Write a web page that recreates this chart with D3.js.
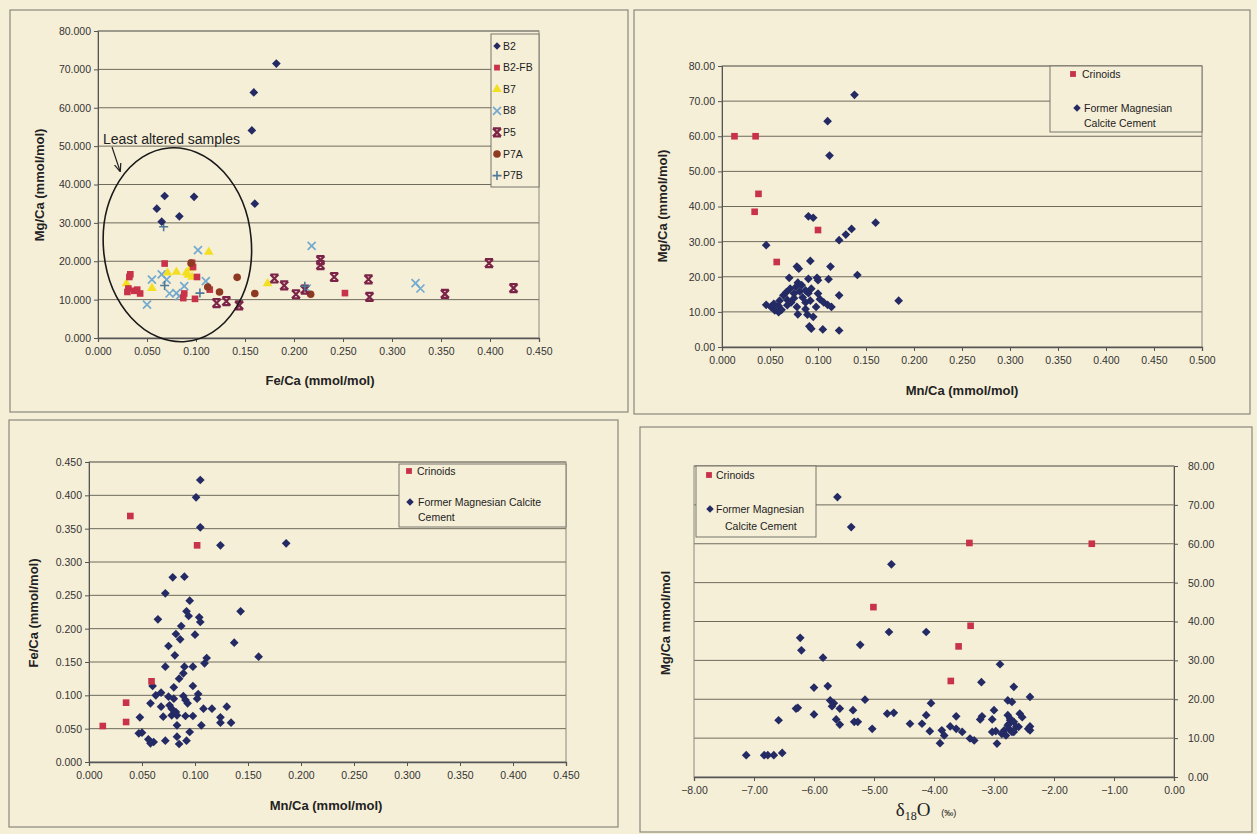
<!DOCTYPE html>
<html>
<head>
<meta charset="utf-8">
<style>
  body { margin: 0; background: #f6efd8; }
  svg { display: block; font-family: "Liberation Sans", Arial, sans-serif; }
  .tick text { font-size: 10.5px; fill: #333; }
  .axis path, .axis line { stroke: #555; }
  .grid line { stroke: #6e6a5c; stroke-width: 1; }
  .title { font-size: 13px; font-weight: bold; fill: #222; }
  .legend text { font-size: 10.5px; fill: #222; }
</style>
</head>
<body>
<svg id="fig" width="1257" height="834"></svg>
<script src="https://d3js.org/d3.v7.min.js"></script>
<script>
// ---------- panel 1 : Fe/Ca vs Mg/Ca per sample ----------
var p1Series = ["B2", "B2-FB", "B7", "B8", "P5", "P7A", "P7B"];
var p1_B2 = [[0.182,71.5],[0.159,64.0],[0.157,54.1],[0.160,35.0],[0.068,37.0],[0.098,36.8],[0.060,33.7],[0.083,31.7],[0.065,30.3]];
var p1_B2FB = [[0.068,19.4],[0.096,19.6],[0.097,18.5],[0.032,15.9],[0.033,16.6],[0.031,12.9],[0.037,12.3],[0.043,11.6],[0.030,12.0],
  [0.040,12.6],[0.087,10.4],[0.088,11.6],[0.099,10.2],[0.101,15.9],[0.114,12.6],[0.252,11.7]];
var p1_B7 = [[0.113,22.4],[0.029,14.2],[0.055,13.0],[0.071,17.0],[0.080,17.2],[0.090,17.0],[0.094,18.1],[0.096,15.9],[0.173,14.2],[0.092,16.4]];
var p1_B8 = [[0.102,22.9],[0.218,24.0],[0.050,8.7],[0.055,15.2],[0.065,16.6],[0.070,15.2],[0.073,11.6],[0.080,11.7],[0.083,10.9],
  [0.088,13.5],[0.110,14.8],[0.324,14.3],[0.329,12.9],[0.213,12.9]];
var p1_P5 = [[0.180,15.5],[0.190,13.7],[0.202,11.4],[0.211,12.6],[0.227,20.3],[0.227,19.0],[0.241,15.9],[0.276,15.3],[0.277,10.7],
  [0.354,11.5],[0.399,19.5],[0.424,13.0],[0.121,9.1],[0.131,9.6],[0.144,8.5]];
var p1_P7A = [[0.142,15.8],[0.160,11.6],[0.217,11.4],[0.124,12.0],[0.112,13.3],[0.095,19.5]];
var p1_P7B = [[0.067,29.0],[0.068,13.7],[0.104,11.7],[0.211,13.5]];

// ---------- panel 2 : Mn/Ca vs Mg/Ca ----------
var p2_crinoids = [[0.013,60.0],[0.035,60.0],[0.038,43.6],[0.034,38.5],[0.100,33.3],[0.057,24.2]];
var p2_cement = [[0.138,71.8],[0.110,64.3],[0.112,54.5],[0.090,37.2],[0.095,36.8],[0.135,33.6],[0.129,32.0],[0.122,30.4],[0.160,35.4],
  [0.046,29.0],[0.092,24.5],[0.113,22.9],[0.078,22.9],[0.080,22.3],[0.141,20.5],[0.070,19.7],[0.090,19.4],[0.099,19.7],[0.100,19.0],
  [0.111,19.3],[0.122,14.7],[0.184,13.2],[0.091,5.9],[0.093,5.2],[0.105,5.0],[0.122,4.7],
  [0.046,12.0],[0.051,11.4],[0.055,10.4],[0.059,11.7],[0.060,13.2],[0.064,14.7],[0.067,15.6],[0.071,16.6],[0.075,15.2],[0.077,17.1],
  [0.079,18.3],[0.068,13.4],[0.072,12.7],[0.078,11.4],[0.079,9.3],[0.084,14.1],[0.087,12.7],[0.090,15.3],[0.092,13.2],[0.093,16.6],
  [0.087,10.8],[0.089,9.2],[0.095,8.6],[0.098,11.4],[0.102,13.6],[0.106,12.7],[0.110,12.0],[0.114,11.4],[0.062,10.6],[0.059,9.9],
  [0.054,12.3],[0.068,11.9],[0.081,15.8],[0.083,17.6],[0.075,13.9],[0.087,16.1],[0.100,15.2]];

// ---------- panel 3 : Mn/Ca vs Fe/Ca ----------
var p3_crinoids = [[0.039,0.369],[0.102,0.325],[0.013,0.054],[0.035,0.089],[0.035,0.060],[0.059,0.121]];
var p3_cement = [[0.105,0.423],[0.101,0.397],[0.105,0.352],[0.124,0.325],[0.186,0.328],[0.079,0.277],[0.090,0.278],[0.072,0.253],
  [0.095,0.242],[0.143,0.226],[0.065,0.214],[0.092,0.226],[0.094,0.219],[0.104,0.217],[0.105,0.210],[0.087,0.204],[0.100,0.191],
  [0.082,0.192],[0.086,0.184],[0.137,0.179],[0.075,0.174],[0.081,0.160],[0.160,0.158],[0.111,0.156],[0.109,0.148],[0.072,0.143],
  [0.090,0.143],[0.098,0.143],[0.089,0.133],[0.085,0.125],[0.060,0.114],[0.080,0.112],[0.098,0.114],[0.068,0.104],[0.063,0.100],
  [0.075,0.098],[0.080,0.095],[0.089,0.099],[0.091,0.093],[0.103,0.102],[0.102,0.095],[0.058,0.088],[0.068,0.083],[0.076,0.085],
  [0.093,0.088],[0.108,0.080],[0.116,0.080],[0.130,0.083],[0.048,0.067],[0.070,0.068],[0.078,0.070],[0.091,0.069],[0.098,0.069],
  [0.124,0.067],[0.083,0.055],[0.095,0.045],[0.106,0.055],[0.124,0.059],[0.134,0.059],[0.047,0.043],[0.050,0.044],[0.056,0.034],
  [0.061,0.030],[0.058,0.028],[0.072,0.032],[0.083,0.038],[0.085,0.027],[0.092,0.032],[0.078,0.080],[0.082,0.075],[0.083,0.070]];

// ---------- panel 4 : d18O vs Mg/Ca ----------
var p4_crinoids = [[-3.41,60.2],[-1.37,60.0],[-5.01,43.7],[-3.39,38.9],[-3.59,33.6],[-3.72,24.7]];
var p4_cement = [[-5.61,72.0],[-5.38,64.3],[-4.71,54.7],[-4.75,37.3],[-4.13,37.3],[-6.23,35.8],[-6.21,32.6],[-5.23,34.0],[-5.85,30.7],
  [-2.90,29.0],[-3.21,24.4],[-2.67,23.2],[-6.00,23.0],[-5.77,23.4],[-2.40,20.6],[-5.73,19.7],[-5.67,19.0],[-5.70,18.2],[-5.15,19.9],
  [-4.05,19.0],[-2.77,19.7],[-2.70,19.3],[-6.30,17.6],[-6.27,17.8],[-5.57,17.6],[-5.35,17.2],[-6.00,16.1],[-4.78,16.3],[-4.67,16.5],
  [-4.13,15.9],[-3.63,15.6],[-3.20,15.6],[-3.23,14.8],[-3.00,17.2],[-3.03,14.8],[-2.77,15.9],[-2.73,15.0],[-2.75,13.7],[-2.57,16.3],
  [-2.53,15.4],[-6.59,14.6],[-5.63,14.8],[-5.57,13.5],[-5.33,14.2],[-5.27,14.2],[-4.40,13.7],[-4.20,13.7],[-4.07,11.8],[-5.03,12.4],
  [-3.87,12.0],[-3.83,10.7],[-3.90,8.7],[-3.73,13.0],[-3.63,12.4],[-3.53,11.6],[-3.40,9.9],[-3.33,9.4],[-3.03,11.6],[-2.97,11.8],
  [-2.95,8.6],[-2.87,11.1],[-2.83,12.0],[-2.80,10.7],[-2.75,12.4],[-2.70,11.6],[-2.67,11.6],[-2.63,12.9],[-2.59,12.9],[-2.43,12.4],
  [-2.40,13.0],[-2.40,12.0],[-7.13,5.6],[-6.83,5.6],[-6.77,5.6],[-6.67,5.6],[-6.53,6.2],[-2.73,14.6],[-2.67,14.2],[-2.77,13.3]];

var legend2 = ["Crinoids", "Former Magnesian", "Calcite Cement"];
var legend3 = ["Crinoids", "Former Magnesian Calcite", "Cement"];

var navy = "#242a63", red = "#c8334a";
var svg = d3.select("#fig");

// marker painters
function diamond(g, pts, x, y) {
  g.selectAll(null).data(pts).enter().append("path")
    .attr("d", d3.symbol(d3.symbolSquare, 38))
    .attr("transform", function(d){ return "translate(" + x(d[0]) + "," + y(d[1]) + ") rotate(45)"; })
    .attr("fill", navy);
}
function square(g, pts, x, y, c) {
  g.selectAll(null).data(pts).enter().append("path")
    .attr("d", d3.symbol(d3.symbolSquare, 44))
    .attr("transform", function(d){ return "translate(" + x(d[0]) + "," + y(d[1]) + ")"; })
    .attr("fill", c || red);
}
var shapes = {
  tri: function(g){ g.append("path").attr("d", d3.symbol(d3.symbolTriangle, 40)).attr("fill", "#f3df22"); },
  x: function(g){ g.append("path").attr("d", "M-4,-4L4,4M4,-4L-4,4").attr("stroke", "#72a9cf").attr("stroke-width", 1.7).attr("fill", "none"); },
  hour: function(g){ g.append("path").attr("d", "M-4,-4L4,4M4,-4L-4,4M-4,-4H4M-4,4H4").attr("stroke", "#7c2448").attr("stroke-width", 2.2).attr("fill", "none"); },
  circ: function(g){ g.append("circle").attr("r", 3.8).attr("fill", "#8e3a22"); },
  plus: function(g){ g.append("path").attr("d", "M-4.5,0H4.5M0,-4.5V4.5").attr("stroke", "#4f7897").attr("stroke-width", 1.6).attr("fill", "none"); },
  dia: function(g){ g.append("path").attr("d", d3.symbol(d3.symbolSquare, 28)).attr("transform", "rotate(45)").attr("fill", navy); },
  sq: function(g){ g.append("path").attr("d", d3.symbol(d3.symbolSquare, 34)).attr("fill", "#c8334a"); }
};
function custom(g, pts, x, y, fn) {
  pts.forEach(function(d){
    var m = g.append("g").attr("transform", "translate(" + x(d[0]) + "," + y(d[1]) + ")");
    fn(m);
  });
}

// frame + plot area + grid + axes
function panel(box, plot, xDom, yDom, xTicks, yTicks, xFmt, yFmt, yRight) {
  svg.append("rect").attr("x", box[0]).attr("y", box[1]).attr("width", box[2]).attr("height", box[3])
    .attr("fill", "none").attr("stroke", "#8a877c").attr("stroke-width", 1.2);
  var x = d3.scaleLinear().domain(xDom).range([plot[0], plot[2]]);
  var y = d3.scaleLinear().domain(yDom).range([plot[3], plot[1]]);
  var g = svg.append("g");
  g.append("g").attr("class", "grid")
    .selectAll("line").data(yTicks.filter(function(t){ return t !== yDom[0]; })).enter().append("line")
    .attr("x1", plot[0]).attr("x2", plot[2]).attr("y1", function(d){ return y(d); }).attr("y2", function(d){ return y(d); });
  g.append("rect").attr("x", plot[0]).attr("y", plot[1]).attr("width", plot[2] - plot[0]).attr("height", plot[3] - plot[1])
    .attr("fill", "none").attr("stroke", "#8a877c");
  var xa = g.append("g").attr("class", "axis").attr("transform", "translate(0," + plot[3] + ")")
    .call(d3.axisBottom(x).tickValues(xTicks).tickFormat(d3.format(xFmt)).tickSize(4).tickPadding(6));
  var ya = yRight
    ? g.append("g").attr("class", "axis").attr("transform", "translate(" + plot[2] + ",0)")
        .call(d3.axisRight(y).tickValues(yTicks).tickFormat(d3.format(yFmt)).tickSize(4).tickPadding(10))
    : g.append("g").attr("class", "axis").attr("transform", "translate(" + plot[0] + ",0)")
        .call(d3.axisLeft(y).tickValues(yTicks).tickFormat(d3.format(yFmt)).tickSize(4).tickPadding(3));
  xa.select(".domain").attr("stroke", "#444").attr("stroke-width", 1.3);
  ya.select(".domain").attr("stroke", "#444");
  return {x: x, y: y, g: g};
}

function legendBox(rect, rows) {
  var lg = svg.append("g").attr("class", "legend");
  lg.append("rect").attr("x", rect[0]).attr("y", rect[1]).attr("width", rect[2]).attr("height", rect[3])
    .attr("fill", "#f6efd8").attr("stroke", "#77746a");
  rows.forEach(function(r){
    if (r.mark) {
      var m = lg.append("g").attr("transform", "translate(" + r.mx + "," + r.y + ")");
      shapes[r.mark](m);
    }
    lg.append("text").attr("x", r.tx).attr("y", r.y).attr("dy", "0.35em").text(r.text);
  });
}

function yTitle(x, y, text) {
  svg.append("text").attr("class", "title").attr("text-anchor", "middle")
    .attr("transform", "translate(" + x + "," + y + ") rotate(-90)").text(text);
}
function xTitle(x, y, text) {
  svg.append("text").attr("class", "title").attr("text-anchor", "middle").attr("x", x).attr("y", y).text(text);
}

// ===== panel 1 =====
var a = panel([10, 10, 618, 402], [98, 31, 539, 338], [0, 0.45], [0, 80],
  d3.range(0, 0.4501, 0.05), d3.range(0, 80.1, 10), ".3f", ".3f", false);
custom(a.g, p1_B8, a.x, a.y, shapes.x);
custom(a.g, p1_B7, a.x, a.y, shapes.tri);
square(a.g, p1_B2FB, a.x, a.y, "#c8334a");
custom(a.g, p1_P7A, a.x, a.y, shapes.circ);
custom(a.g, p1_P5, a.x, a.y, shapes.hour);
custom(a.g, p1_P7B, a.x, a.y, shapes.plus);
diamond(a.g, p1_B2, a.x, a.y);
// "least altered" ellipse
a.g.append("ellipse")
  .attr("cx", a.x(0.081)).attr("cy", a.y(24.3))
  .attr("rx", a.x(0.0755) - a.x(0)).attr("ry", a.y(0) - a.y(25.3))
  .attr("transform", "rotate(-5," + a.x(0.081) + "," + a.y(24.3) + ")")
  .attr("fill", "none").attr("stroke", "#1a1a1a").attr("stroke-width", 1.6);
svg.append("defs").append("marker").attr("id", "arr").attr("viewBox", "0 0 10 10").attr("refX", 9).attr("refY", 5)
  .attr("markerWidth", 7).attr("markerHeight", 7).attr("orient", "auto")
  .append("path").attr("d", "M0,1L10,5L0,9").attr("fill", "none").attr("stroke", "#222").attr("stroke-width", 1.5);
a.g.append("line").attr("x1", 112).attr("y1", 147).attr("x2", 120).attr("y2", 171)
  .attr("stroke", "#222").attr("stroke-width", 1.2).attr("marker-end", "url(#arr)");
a.g.append("text").attr("x", 103).attr("y", 144).attr("font-size", "14px").attr("fill", "#222")
  .text("Least altered samples");
var p1Marks = ["dia", "sq", "tri", "x", "hour", "circ", "plus"];
legendBox([491, 34, 48, 153], p1Series.map(function(s, i){
  return {mark: p1Marks[i], mx: 497, tx: 503, y: 46 + i * 21.6, text: s};
}));
xTitle(320, 385, "Fe/Ca (mmol/mol)");
yTitle(44, 185, "Mg/Ca (mmol/mol)");

// ===== panel 2 =====
var b = panel([634, 10, 616, 404], [722, 66, 1202, 347], [0, 0.5], [0, 80],
  d3.range(0, 0.5001, 0.05), d3.range(0, 80.1, 10), ".3f", ".2f", false);
legendBox([1050, 66, 152, 66], [
  {mark: "sq", mx: 1073, tx: 1082, y: 74, text: legend2[0]},
  {mark: "dia", mx: 1077, tx: 1084, y: 108, text: legend2[1]},
  {mark: null, tx: 1084, y: 123, text: legend2[2]}]);
diamond(b.g, p2_cement, b.x, b.y);
square(b.g, p2_crinoids, b.x, b.y);
xTitle(962, 395, "Mn/Ca (mmol/mol)");
yTitle(667, 206, "Mg/Ca (mmol/mol)");

// ===== panel 3 =====
var c = panel([9, 420, 609, 407], [89, 462, 566, 762], [0, 0.45], [0, 0.45],
  d3.range(0, 0.4501, 0.05), d3.range(0, 0.4501, 0.05), ".3f", ".3f", false);
legendBox([399, 464, 167, 63], [
  {mark: "sq", mx: 409, tx: 417, y: 471, text: legend3[0]},
  {mark: "dia", mx: 410, tx: 418, y: 502, text: legend3[1]},
  {mark: null, tx: 418, y: 517, text: legend3[2]}]);
diamond(c.g, p3_cement, c.x, c.y);
square(c.g, p3_crinoids, c.x, c.y);
xTitle(326, 810, "Mn/Ca (mmol/mol)");
yTitle(38, 613, "Fe/Ca (mmol/mol)");

// ===== panel 4 =====
var d = panel([640, 427, 612, 405], [694, 466, 1174, 777], [-8, 0], [0, 80],
  d3.range(-8, 0.01, 1), d3.range(0, 80.1, 10), ".2f", ".2f", true);
legendBox([696, 466, 120, 71], [
  {mark: "sq", mx: 709, tx: 716, y: 475, text: legend2[0]},
  {mark: "dia", mx: 710, tx: 716, y: 509, text: legend2[1]},
  {mark: null, tx: 725, y: 526, text: legend2[2]}]);
diamond(d.g, p4_cement, d.x, d.y);
square(d.g, p4_crinoids, d.x, d.y);
var t4 = svg.append("text").attr("x", 926).attr("y", 816).attr("text-anchor", "middle")
  .attr("font-family", "'Liberation Serif', 'Times New Roman', serif").attr("font-size", "19px").attr("fill", "#222");
t4.append("tspan").text("δ");
t4.append("tspan").attr("font-size", "12px").attr("dy", 4).text("18");
t4.append("tspan").attr("dy", -4).text("O ");
t4.append("tspan").attr("font-size", "9px").attr("font-family", "'Liberation Sans', Arial, sans-serif").attr("dx", 6).text("(‰)");
yTitle(670, 623, "Mg/Ca mmol/mol");
</script>
</body>
</html>
